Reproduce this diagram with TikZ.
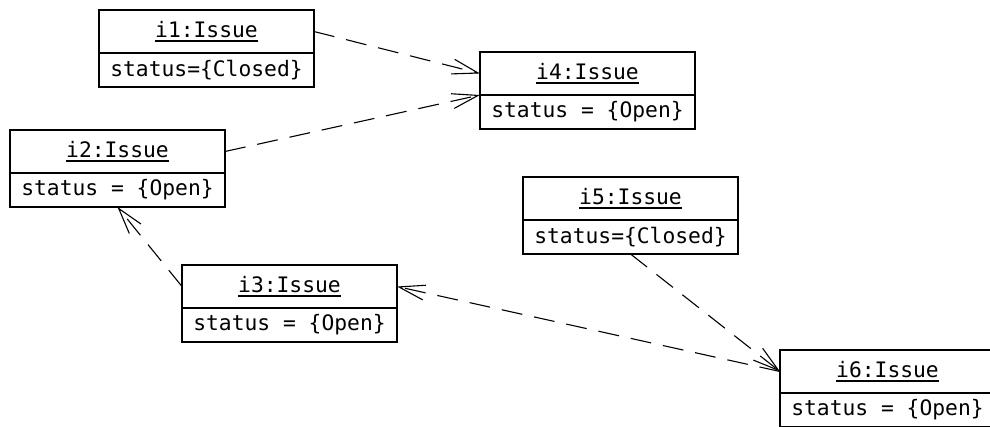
\documentclass[tikz,border=0pt]{standalone}
\usepackage{fontspec}
\setmonofont{DejaVu Sans Mono}
\usetikzlibrary{arrows.meta}

\newcommand{\objul}[1]{\setbox0\hbox{#1}\rlap{\rule[-4.5pt]{\wd0}{1.8pt}}\box0}

\tikzset{
  objname/.style={draw, line width=1.7pt, outer sep=0pt, anchor=north west,
    minimum width=215pt, minimum height=43pt, inner sep=2pt,
    font=\ttfamily\fontsize{21.3}{24}\selectfont},
  objattr/.style={objname, minimum height=34pt},
  link/.style={line width=1.1pt, dash pattern=on 21pt off 12pt,
    -{Straight Barb[length=26pt,width=15pt]}}
}

\begin{document}
\begin{tikzpicture}[x=1pt,y=-1pt]
  \useasboundingbox (0,0) rectangle (990,426);
  % objects: name / left / top / status
  \foreach \n/\x/\y/\s in {i1/99/10/{status=\{Closed\}},
                           i2/10/130/{status = \{Open\}},
                           i3/182/265/{status = \{Open\}},
                           i4/480/52/{status = \{Open\}},
                           i5/523/177/{status=\{Closed\}},
                           i6/780/350/{status = \{Open\}}}{
    \node[objname] (\n) at (\x,\y) {\objul{\n:Issue}};
    \node[objattr] (\n-st) at (\n.south west) {\s};
  }
  % links
  \draw[link] (i1.east) -- (i4.west);
  \draw[link] (i2.east) -- (i4.south west);
  \draw[link] (i3.west) -- (i2-st.south);
  \draw[link] (i6.west) -- (i3.east);
  \draw[link] (i5-st.south) -- (i6.west);
\end{tikzpicture}
\end{document}
